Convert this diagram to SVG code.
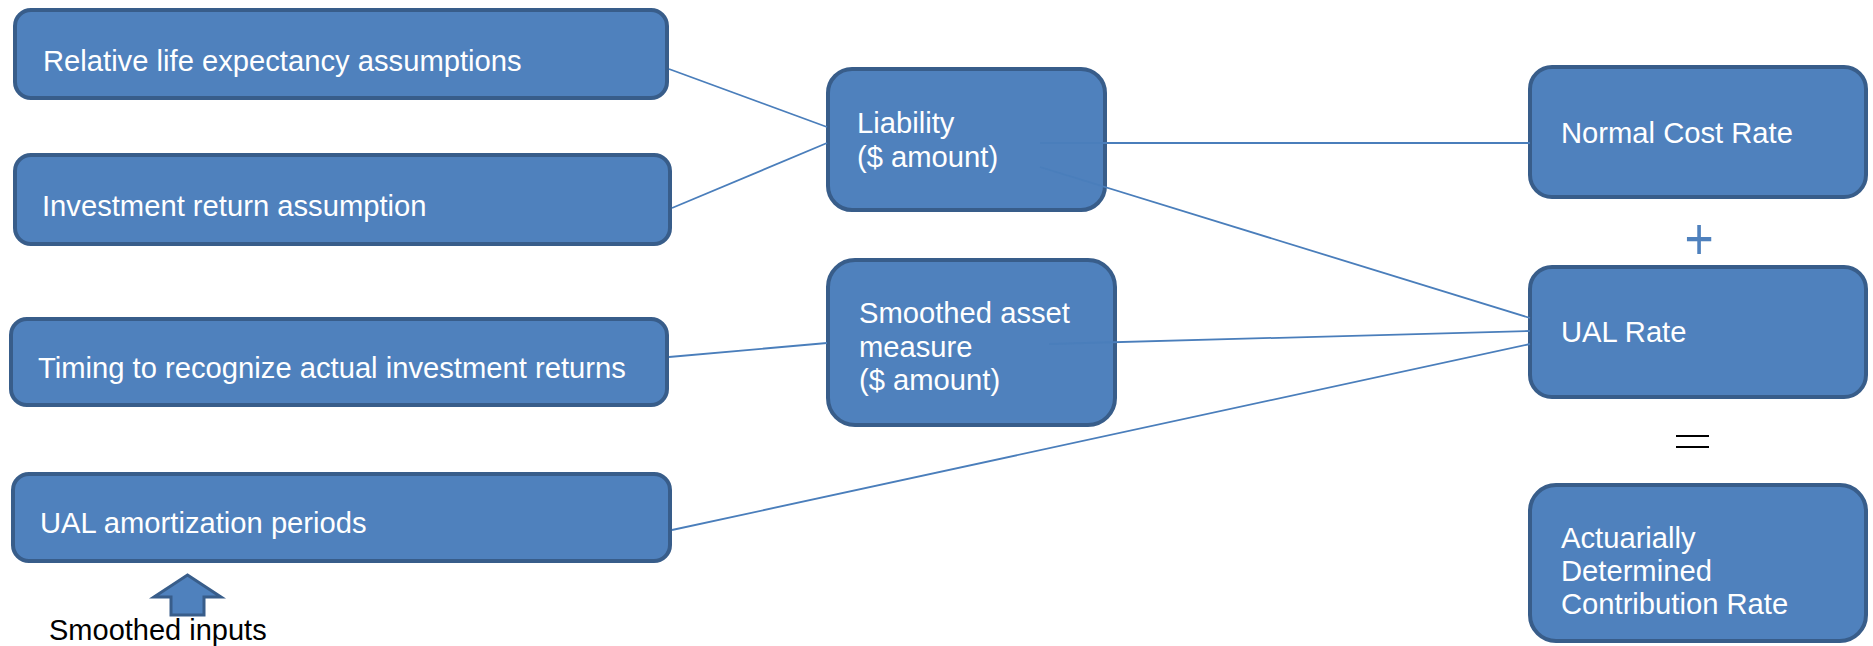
<svg xmlns="http://www.w3.org/2000/svg" width="1873" height="646" viewBox="0 0 1873 646">
<style>
.box{fill:#4f81bd;stroke:#385d8a;stroke-width:4}
.lbl{font-family:"Liberation Sans",Arial,sans-serif;font-size:29.2px;fill:#ffffff}
.conn{stroke:#4a7ebb;stroke-width:1.8;fill:none}
</style>
<rect width="1873" height="646" fill="#ffffff"/>
<g id="node-life">
<rect class="box" x="15" y="10" width="652" height="88" rx="16"/>
<text class="lbl" x="43" y="71">Relative life expectancy assumptions</text>
</g>
<g id="node-invret">
<rect class="box" x="15" y="155" width="655" height="89" rx="16"/>
<text class="lbl" x="42" y="216">Investment return assumption</text>
</g>
<g id="node-timing">
<rect class="box" x="11" y="319" width="656" height="86" rx="16"/>
<text class="lbl" x="38" y="378">Timing to recognize actual investment returns</text>
</g>
<g id="node-amort">
<rect class="box" x="13" y="474" width="657" height="87" rx="16"/>
<text class="lbl" x="40" y="533">UAL amortization periods</text>
</g>
<g id="node-liability">
<rect class="box" x="828" y="69" width="277" height="141" rx="24"/>
<text class="lbl" x="857" y="133">Liability</text>
<text class="lbl" x="857" y="167">($ amount)</text>
</g>
<g id="node-assets">
<rect class="box" x="828" y="260" width="287" height="165" rx="27"/>
<text class="lbl" x="859" y="323">Smoothed asset</text>
<text class="lbl" x="859" y="357">measure</text>
<text class="lbl" x="859" y="390">($ amount)</text>
</g>
<g id="node-normalcost">
<rect class="box" x="1530" y="67" width="336" height="130" rx="22"/>
<text class="lbl" x="1561" y="143">Normal Cost Rate</text>
</g>
<g id="node-ualrate">
<rect class="box" x="1530" y="267" width="336" height="130" rx="22"/>
<text class="lbl" x="1561" y="342">UAL Rate</text>
</g>
<g id="node-adcr">
<rect class="box" x="1530" y="485" width="336" height="156" rx="26"/>
<text class="lbl" x="1561" y="548">Actuarially</text>
<text class="lbl" x="1561" y="581">Determined</text>
<text class="lbl" x="1561" y="614">Contribution Rate</text>
</g>
<g id="plus">
<text transform="translate(1699,259) scale(1,1.2)" font-family="'Liberation Sans',Arial,sans-serif" font-size="50" fill="#4f81bd" text-anchor="middle">+</text>
</g>
<g id="equals" stroke="#000000" stroke-width="2">
<line x1="1676" y1="436" x2="1709" y2="436"/>
<line x1="1676" y1="447" x2="1709" y2="447"/>
</g>
<g id="smoothed-inputs">
<path d="M187.5,575 L221,597 L204,597 L204,615 L171,615 L171,597 L154,597 Z" fill="#4f81bd" stroke="#385d8a" stroke-width="3" stroke-linejoin="miter"/>
<text x="49" y="640" font-family="'Liberation Sans',Arial,sans-serif" font-size="29" fill="#000000">Smoothed inputs</text>
</g>
<g id="connectors">
<line class="conn" x1="669" y1="69" x2="827" y2="127"/>
<line class="conn" x1="672" y1="208" x2="827" y2="143"/>
<line class="conn" x1="669" y1="357" x2="827" y2="343"/>
<line class="conn" x1="672" y1="530" x2="1530" y2="344"/>
<line class="conn" x1="1040" y1="143" x2="1530" y2="143"/>
<line class="conn" x1="1040" y1="167" x2="1530" y2="318"/>
<line class="conn" x1="1049" y1="344" x2="1530" y2="331"/>
</g>
</svg>
